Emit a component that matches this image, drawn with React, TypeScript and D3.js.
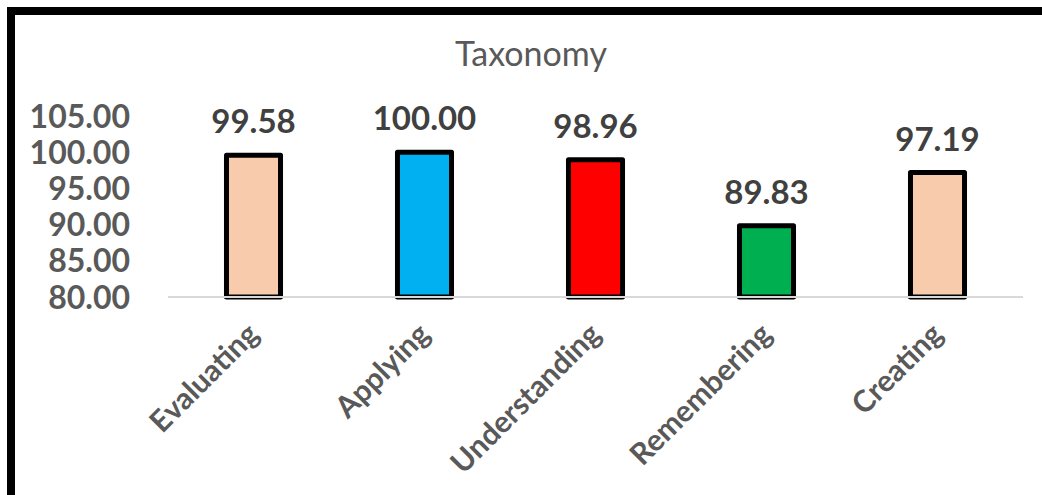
import { useEffect, useRef } from 'react'
import * as d3 from 'd3'

const categories = ['Evaluating', 'Applying', 'Understanding', 'Remembering', 'Creating']
const values = [99.58, 100.0, 98.96, 89.83, 97.19]
const barColors = ['#F8CBAD', '#00B0F0', '#FF0000', '#00B050', '#F8CBAD']
const yTicks = [80, 85, 90, 95, 100, 105]

const FONT = 'Lato, "Open Sans", sans-serif'

export default function App() {
  const svgRef = useRef<SVGSVGElement>(null)

  useEffect(() => {
    if (!svgRef.current) return
    const width = 1042
    const height = 495

    const svg = d3.select(svgRef.current)
    svg.selectAll('*').remove()
    svg.attr('width', width).attr('height', height)

    svg.append('rect').attr('width', width).attr('height', height).attr('fill', '#ffffff')

    // Outer frame (only top and left edges visible in the crop)
    svg.append('rect')
      .attr('x', 11)
      .attr('y', 11)
      .attr('width', 1200)
      .attr('height', 800)
      .attr('fill', 'none')
      .attr('stroke', '#000000')
      .attr('stroke-width', 8)

    const x = d3.scaleBand<string>()
      .domain(categories)
      .range([168, 1023])
      .paddingInner(0.684)
      .paddingOuter(0.342)

    const y = d3.scaleLinear().domain([80, 105]).range([297, 116])

    // Title
    svg.append('text')
      .attr('x', 531)
      .attr('y', 66)
      .attr('text-anchor', 'middle')
      .attr('fill', '#595959')
      .attr('font-family', FONT)
      .attr('font-size', '34px')
      .text('Taxonomy')

    // Y tick labels
    svg.append('g')
      .selectAll('text')
      .data(yTicks)
      .enter().append('text')
      .attr('x', 130)
      .attr('y', d => y(d))
      .attr('dy', '0.36em')
      .attr('text-anchor', 'end')
      .attr('fill', '#595959')
      .attr('font-family', FONT)
      .attr('font-weight', 700)
      .attr('font-size', '32px')
      .text(d => d.toFixed(2))

    // Bars
    svg.append('g')
      .selectAll('rect')
      .data(values)
      .enter().append('rect')
      .attr('x', (_, i) => x(categories[i]) ?? 0)
      .attr('y', d => y(d))
      .attr('width', x.bandwidth())
      .attr('height', d => y(80) - y(d))
      .attr('fill', (_, i) => barColors[i])
      .attr('stroke', '#000000')
      .attr('stroke-width', 5)
      .attr('stroke-linejoin', 'round')

    // Baseline gridline
    svg.append('line')
      .attr('x1', 168)
      .attr('x2', 1023)
      .attr('y1', y(80))
      .attr('y2', y(80))
      .attr('stroke', '#D9D9D9')
      .attr('stroke-width', 2)

    // Value labels
    svg.append('g')
      .selectAll('text')
      .data(values)
      .enter().append('text')
      .attr('x', (_, i) => (x(categories[i]) ?? 0) + x.bandwidth() / 2)
      .attr('y', d => y(d) - 22)
      .attr('text-anchor', 'middle')
      .attr('fill', '#404040')
      .attr('font-family', FONT)
      .attr('font-weight', 700)
      .attr('font-size', '33px')
      .text(d => d.toFixed(2))

    // Category labels, rotated
    svg.append('g')
      .selectAll('text')
      .data(categories)
      .enter().append('text')
      .attr('transform', d => `translate(${(x(d) ?? 0) + x.bandwidth() / 2 + 7},${336}) rotate(-45)`)
      .attr('text-anchor', 'end')
      .attr('fill', '#595959')
      .attr('font-family', FONT)
      .attr('font-weight', 700)
      .attr('font-size', '30px')
      .text(d => d)
  }, [])

  return (
    <div style={{ position: 'absolute', left: 0, top: 0 }}>
      <svg ref={svgRef} style={{ display: 'block' }} />
    </div>
  )
}
